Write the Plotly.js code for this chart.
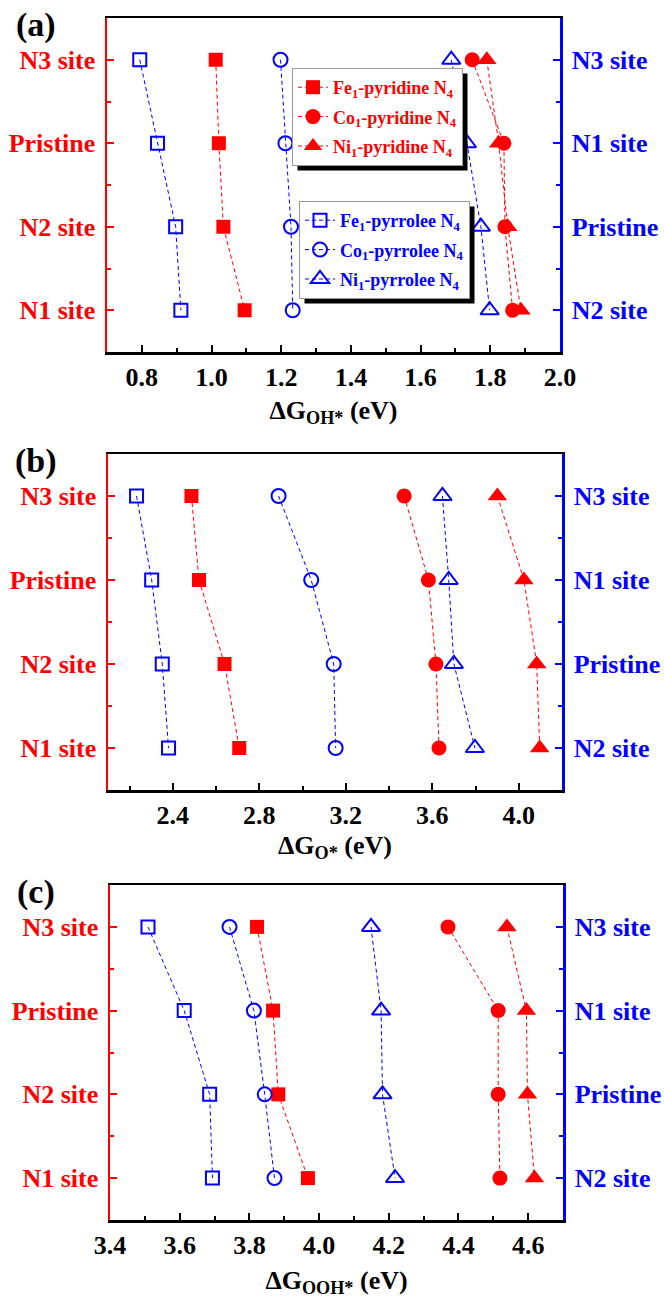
<!DOCTYPE html>
<html>
<head>
<meta charset="utf-8">
<script src="https://cdn.plot.ly/plotly-3.0.1.min.js"></script>
<style>
  html, body { margin: 0; padding: 0; background: #fff; }
  #chart { width: 664px; height: 1300px; }
</style>
</head>
<body>
<div id="chart"></div>
<script>
// Site order, top to bottom, on each y axis
const sitesLeft  = ['N3 site', 'Pristine', 'N2 site', 'N1 site'];   // pyridine (red, left axis)
const sitesRight = ['N3 site', 'N1 site', 'Pristine', 'N2 site'];   // pyrrolee (blue, right axis)

const seriesNames = {
  fePyridine: 'Fe<sub>1</sub>-pyridine N<sub>4</sub>',
  coPyridine: 'Co<sub>1</sub>-pyridine N<sub>4</sub>',
  niPyridine: 'Ni<sub>1</sub>-pyridine N<sub>4</sub>',
  fePyrrolee: 'Fe<sub>1</sub>-pyrrolee N<sub>4</sub>',
  coPyrrolee: 'Co<sub>1</sub>-pyrrolee N<sub>4</sub>',
  niPyrrolee: 'Ni<sub>1</sub>-pyrrolee N<sub>4</sub>'
};

// (a) ΔG_OH*  (values listed in the site order above)
const ohFePyridine = [1.012, 1.021, 1.034, 1.095];
const ohCoPyridine = [1.748, 1.839, 1.842, 1.864];
const ohNiPyridine = [1.790, 1.824, 1.850, 1.888];
const ohFePyrrolee = [0.794, 0.845, 0.897, 0.912];
const ohCoPyrrolee = [1.198, 1.212, 1.228, 1.233];
const ohNiPyrrolee = [1.688, 1.733, 1.773, 1.798];

// (b) ΔG_O*
const oFePyridine = [2.486, 2.521, 2.639, 2.707];
const oCoPyridine = [3.470, 3.582, 3.617, 3.631];
const oNiPyridine = [3.901, 4.024, 4.083, 4.097];
const oFePyrrolee = [2.232, 2.302, 2.351, 2.380];
const oCoPyrrolee = [2.889, 3.040, 3.144, 3.153];
const oNiPyrrolee = [3.647, 3.676, 3.700, 3.797];

// (c) ΔG_OOH*
const oohFePyridine = [3.822, 3.868, 3.883, 3.968];
const oohCoPyridine = [4.370, 4.514, 4.514, 4.519];
const oohNiPyridine = [4.539, 4.595, 4.598, 4.618];
const oohFePyrrolee = [3.509, 3.613, 3.686, 3.694];
const oohCoPyrrolee = [3.743, 3.813, 3.844, 3.872];
const oohNiPyrrolee = [4.149, 4.178, 4.182, 4.218];

const panelLabels = ['(a)', '(b)', '(c)'];
const xTitles = ['ΔG<sub>OH*</sub> (eV)', 'ΔG<sub>O*</sub> (eV)', 'ΔG<sub>OOH*</sub> (eV)'];

// ---- styling ----
const RED = '#ff0000';
const BLUE = '#0000ff';
const FONT = '"Liberation Serif", "Times New Roman", Times, serif';
const W = 664, H = 1300;

// category position on an axis: bottom = 0
const posOf = (order, s) => order.length - 1 - order.indexOf(s);
const yLeft  = sitesLeft.map(s => posOf(sitesLeft, s));
const yRight = sitesRight.map(s => posOf(sitesRight, s));

const panels = [
  { xRange: [0.7, 2.0], dtick: 0.2, minor: 0.1, xPx: [107, 560], yPx: [18, 352], standoff: 10,
    d: [ohFePyridine, ohCoPyridine, ohNiPyridine, ohFePyrrolee, ohCoPyrrolee, ohNiPyrrolee] },
  { xRange: [2.1, 4.2], dtick: 0.4, minor: 0.2, xPx: [108, 562], yPx: [454, 790], standoff: 7,
    d: [oFePyridine, oCoPyridine, oNiPyridine, oFePyrrolee, oCoPyrrolee, oNiPyrrolee] },
  { xRange: [3.4, 4.7], dtick: 0.2, minor: 0.1, xPx: [110, 563], yPx: [885, 1220], standoff: 12,
    d: [oohFePyridine, oohCoPyridine, oohNiPyridine, oohFePyrrolee, oohCoPyrrolee, oohNiPyrrolee] }
];

const styles = [
  { name: seriesNames.fePyridine, color: RED,  symbol: 'square',          size: 14, side: 'L' },
  { name: seriesNames.coPyridine, color: RED,  symbol: 'circle',          size: 15, side: 'L' },
  { name: seriesNames.niPyridine, color: RED,  symbol: 'triangle-up',     size: 17, side: 'L' },
  { name: seriesNames.fePyrrolee, color: BLUE, symbol: 'square-open',     size: 13, side: 'R' },
  { name: seriesNames.coPyrrolee, color: BLUE, symbol: 'circle-open',     size: 14, side: 'R' },
  { name: seriesNames.niPyrrolee, color: BLUE, symbol: 'triangle-up-open',size: 16, side: 'R' }
];

const data = [];
const legendCommon = {
  xanchor: 'left', yanchor: 'top',
  bgcolor: '#fff', bordercolor: '#999', borderwidth: 1,
  traceorder: 'grouped', tracegroupgap: 3
};
const layout = {
  width: W, height: H,
  margin: { l: 0, r: 0, t: 0, b: 0 },
  paper_bgcolor: '#fff', plot_bgcolor: '#fff',
  font: { family: FONT, color: '#000' },
  annotations: [],
  legend: Object.assign({}, legendCommon, {
    x: 292 / W, y: 1 - 68 / H,
    font: { family: FONT, size: 18, color: RED, weight: 'bold' }
  }),
  legend2: Object.assign({}, legendCommon, {
    x: 299 / W, y: 1 - 201 / H,
    font: { family: FONT, size: 18, color: BLUE, weight: 'bold' }
  })
};

panels.forEach((p, i) => {
  const xi = i === 0 ? '' : String(i + 1);
  const yl = String(2 * i + 1), yr = String(2 * i + 2);
  const ylName = yl === '1' ? '' : yl;
  const xKey = 'x' + xi, ylKey = 'y' + ylName, yrKey = 'y' + yr;

  styles.forEach((s, k) => {
    const left = s.side === 'L';
    data.push({
      type: 'scatter', mode: 'lines+markers',
      name: s.name,
      legendgroup: 'g' + k,
      x: p.d[k],
      y: left ? yLeft : yRight,
      xaxis: xKey, yaxis: left ? ylKey : yrKey,
      line: { color: s.color, width: 1, dash: '4px,3px' },
      marker: { symbol: s.symbol, size: s.size, color: s.color,
                line: { color: s.color, width: left ? 0 : 2 } },
      showlegend: i === 0,
      legend: left ? 'legend' : 'legend2',
      hoverinfo: 'x+y'
    });
  });

  const xDom = [p.xPx[0] / W, p.xPx[1] / W];
  const yDom = [1 - p.yPx[1] / H, 1 - p.yPx[0] / H];
  const yRange = [-0.5, 3.5];

  layout['xaxis' + xi] = {
    domain: xDom, range: p.xRange, anchor: ylKey,
    tick0: 0, dtick: p.dtick, tickformat: '.1f',
    ticks: 'inside', ticklen: 7, tickwidth: 2, tickcolor: '#000',
    minor: { dtick: p.minor, ticks: 'inside', ticklen: 4, tickwidth: 2, tickcolor: '#000' },
    showline: true, mirror: true, linecolor: '#000', linewidth: 2.5,
    showgrid: false, zeroline: false,
    ticklabelstandoff: 0,
    tickfont: { family: FONT, size: 26, color: '#000', weight: 'bold' },
    title: { text: xTitles[i], standoff: p.standoff,
             font: { family: FONT, size: 26, color: '#000', weight: 'bold' } }
  };

  const yCommon = {
    domain: yDom, range: yRange, anchor: xKey,
    tickmode: 'array', tickvals: [0, 1, 2, 3],
    ticks: 'inside', ticklen: 7, tickwidth: 2,
    showline: true, linewidth: 2.5,
    showgrid: false, zeroline: false,
    ticklabelstandoff: 4
  };
  layout['yaxis' + ylName] = Object.assign({}, yCommon, {
    ticktext: sitesLeft.slice().reverse(),
    tickcolor: RED, linecolor: RED, side: 'left',
    minor: { tickmode: 'array', tickvals: [0.5, 1.5, 2.5], ticks: 'inside', ticklen: 4, tickwidth: 2, tickcolor: RED },
    tickfont: { family: FONT, size: 26, color: RED, weight: 'bold' }
  });
  layout['yaxis' + yr] = Object.assign({}, yCommon, {
    overlaying: ylKey, side: 'right',
    ticktext: sitesRight.slice().reverse(),
    tickcolor: BLUE, linecolor: BLUE,
    minor: { tickmode: 'array', tickvals: [0.5, 1.5, 2.5], ticks: 'inside', ticklen: 4, tickwidth: 2, tickcolor: BLUE },
    tickfont: { family: FONT, size: 26, color: BLUE, weight: 'bold' }
  });

  layout.annotations.push({
    text: panelLabels[i], xref: 'paper', yref: 'paper',
    x: 36 / W, y: 1 - (p.yPx[0] + 7) / H, xanchor: 'center', yanchor: 'middle',
    showarrow: false, font: { family: FONT, size: 34, color: '#000', weight: 'bold' }
  });
});

Plotly.newPlot('chart', data, layout, { displayModeBar: false, staticPlot: true }).then(gd => {
  // Drop shadows behind the two legend boxes
  const base = gd.getBoundingClientRect();
  const shapes = [];
  ['legend', 'legend2'].forEach(cls => {
    const bg = gd.querySelector('g.' + cls + ' rect.bg');
    if (!bg) return;
    const r = bg.getBoundingClientRect();
    const off = 5;
    shapes.push({
      type: 'rect', xref: 'paper', yref: 'paper', layer: 'above',
      x0: (r.left - base.left + off) / W, x1: (r.right - base.left + off) / W,
      y0: 1 - (r.bottom - base.top + off) / H, y1: 1 - (r.top - base.top + off) / H,
      fillcolor: '#000', line: { width: 0 }
    });
  });
  return Plotly.relayout(gd, { shapes: shapes });
});
</script>
</body>
</html>
